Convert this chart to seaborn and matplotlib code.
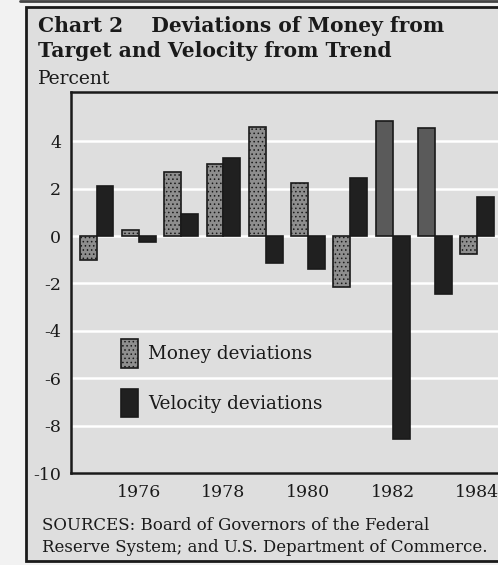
import numpy as np
import pandas as pd
import matplotlib
matplotlib.use("Agg")
import matplotlib.pyplot as plt
from matplotlib.patches import Rectangle, Patch
import seaborn as sns

# ------------------------------------------------------------
# Data (percent)
# ------------------------------------------------------------
years = [1975, 1976, 1977, 1978, 1979, 1980, 1981, 1982, 1983, 1984]
money_dev = [-1.0, 0.25, 2.7, 3.05, 4.6, 2.25, -2.15, 4.85, 4.55, -0.75]
velocity_dev = [2.1, -0.25, 0.95, 3.3, -1.15, -1.4, 2.45, -8.55, -2.45, 1.65]
series_names = ["Money deviations", "Velocity deviations"]
year_labels = ["1976", "1978", "1980", "1982", "1984"]
y_ticks = [4, 2, 0, -2, -4, -6, -8, -10]

df = pd.DataFrame({
    "year": years * 2,
    "value": money_dev + velocity_dev,
    "series": [series_names[0]] * len(years) + [series_names[1]] * len(years),
})

# ------------------------------------------------------------
# Style
# ------------------------------------------------------------
sns.set_style("white")
plt.rcParams["font.family"] = ["DejaVu Serif"]
plt.rcParams["axes.unicode_minus"] = False
plt.rcParams["hatch.linewidth"] = 0.6

paper = "#dedede"
money_col = "#8e8e8e"
money_dark = "#5a5a5a"
vel_col = "#202020"
ink = "#1a1a1a"

fig = plt.figure(figsize=(4.98, 5.65), dpi=100)
fig.patch.set_facecolor("#f2f2f2")

# outer box of the chart (runs off the right edge like the scan)
fig.add_artist(Rectangle((26 / 498, 4 / 565), 1.2, 554 / 565, transform=fig.transFigure,
                         facecolor=paper, edgecolor=ink, linewidth=2, zorder=0))
fig.add_artist(plt.Line2D([20 / 498, 1], [564 / 565, 564 / 565], transform=fig.transFigure,
                          color="#444444", linewidth=2, zorder=0))

ax = fig.add_axes([71 / 498, 92 / 565, 469 / 498, 381 / 565])
ax.set_facecolor("none")

sns.barplot(data=df, x="year", y="value", hue="series", hue_order=series_names,
            palette=[money_col, vel_col], width=0.8, edgecolor=ink, linewidth=1.2,
            legend=False, ax=ax, zorder=3)

# stippled money bars; the 1982-83 bars print as a darker flat gray
for yr, bar in zip(years, ax.containers[0]):
    if yr in (1982, 1983):
        bar.set_facecolor(money_dark)
    else:
        bar.set_hatch("....")

ax.set_xlim(-0.603, 10.48)
ax.set_ylim(-10, 6.08)
ax.set_xlabel("")
ax.set_ylabel("")

ax.set_xticks([1, 3, 5, 7, 9])
ax.set_xticklabels(year_labels)
ax.set_xticks(np.arange(0.5, 10, 1), minor=True)
ax.tick_params(axis="x", which="major", length=0, pad=8, labelsize=12.5, colors=ink)
ax.tick_params(axis="x", which="minor", direction="in", length=5, width=1.2, color=ink)

ax.set_yticks(y_ticks)
ax.set_yticklabels([str(v) for v in y_ticks])
ax.tick_params(axis="y", length=0, pad=7, labelsize=12.5, colors=ink)

ax.grid(axis="y", color="white", linewidth=1.8, zorder=1)
ax.set_axisbelow(True)
for side in ["left", "bottom", "top"]:
    ax.spines[side].set_color(ink)
    ax.spines[side].set_linewidth(1.8)

handles = [Patch(facecolor=money_col, edgecolor=ink, hatch="....", linewidth=1.2),
           Patch(facecolor=vel_col, edgecolor=ink, linewidth=1.2)]
ax.legend(handles, series_names, frameon=False, fontsize=13.2, loc="upper left",
          bbox_to_anchor=(0.09, 0.370), handlelength=0.95, handleheight=2.0,
          handletextpad=0.55, labelspacing=1.17, borderaxespad=0, labelcolor=ink)

fig.text(38 / 498, 1 - 32 / 565, "Chart 2    Deviations of Money from", fontsize=14.6,
         fontweight="bold", color=ink, va="baseline")
fig.text(38 / 498, 1 - 57 / 565, "Target and Velocity from Trend", fontsize=14.6,
         fontweight="bold", color=ink, va="baseline")
fig.text(38 / 498, 1 - 84 / 565, "Percent", fontsize=13.5, color=ink, va="baseline")
fig.text(42 / 498, 1 - 530 / 565, "SOURCES: Board of Governors of the Federal",
         fontsize=12.0, color=ink, va="baseline")
fig.text(42 / 498, 1 - 552 / 565, "Reserve System; and U.S. Department of Commerce.",
         fontsize=12.0, color=ink, va="baseline")

fig.savefig("out.png", dpi=100, facecolor=fig.get_facecolor())
